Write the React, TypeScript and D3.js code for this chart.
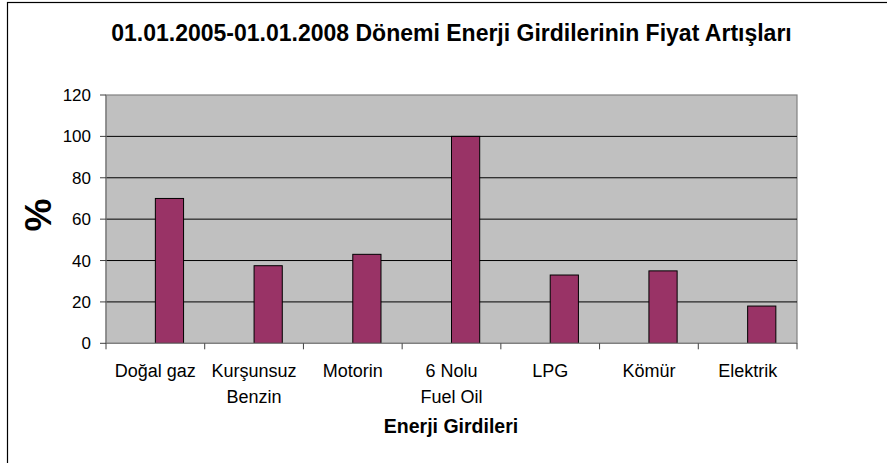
import React from "react";
import * as d3 from "d3";

const categories: string[][] = [
  ["Doğal gaz"],
  ["Kurşunsuz", "Benzin"],
  ["Motorin"],
  ["6 Nolu", "Fuel Oil"],
  ["LPG"],
  ["Kömür"],
  ["Elektrik"],
];
const values: number[] = [70, 37.5, 43, 100, 33, 35, 18];
const yTicks: number[] = [0, 20, 40, 60, 80, 100, 120];
const title = "01.01.2005-01.01.2008 Dönemi Enerji Girdilerinin Fiyat Artışları";
const xTitle = "Enerji Girdileri";
const yTitle = "%";

const W = 887;
const H = 463;
const plot = { left: 106, right: 797, top: 95, bottom: 343.3 };
const font = "'Liberation Sans', Arial, sans-serif";

export default function App() {
  const idx = categories.map((_, i) => String(i));
  const x = d3.scaleBand<string>().domain(idx).range([plot.left, plot.right]).padding(0);
  const y = d3.scaleLinear().domain([0, 120]).range([plot.bottom, plot.top]);
  const bw = x.bandwidth();
  const barW = bw / 3.5;
  const boundaries = d3.range(categories.length + 1).map((i) => plot.left + i * bw);

  return (
    <svg
      width={W}
      height={H}
      style={{ position: "absolute", left: 0, top: 0, background: "#fff" }}
      fontFamily={font}
    >
      <rect x={7.5} y={2.5} width={900} height={480} fill="#fff" stroke="#000" strokeWidth={1.2} />
      <text x={451.5} y={41} textAnchor="middle" fontSize={23} fontWeight="bold" fill="#000">
        {title}
      </text>
      <rect
        x={plot.left}
        y={plot.top}
        width={plot.right - plot.left}
        height={plot.bottom - plot.top}
        fill="#C0C0C0"
        stroke="#808080"
        strokeWidth={1.2}
      />
      {yTicks
        .filter((t) => t > 0 && t < 120)
        .map((t) => (
          <line key={t} x1={plot.left} x2={plot.right} y1={y(t)} y2={y(t)} stroke="#000" strokeWidth={1} />
        ))}
      {values.map((v, i) => {
        const cx = (x(String(i)) as number) + bw / 2;
        return (
          <rect
            key={i}
            x={cx}
            y={y(v)}
            width={barW}
            height={y(0) - y(v)}
            fill="#993366"
            stroke="#000"
            strokeWidth={1}
          />
        );
      })}
      <line x1={plot.left} x2={plot.left} y1={plot.top} y2={plot.bottom} stroke="#808080" strokeWidth={1.2} />
      <line x1={plot.left} x2={plot.right} y1={plot.bottom} y2={plot.bottom} stroke="#808080" strokeWidth={1.2} />
      {yTicks.map((t) => (
        <g key={t}>
          <line x1={plot.left - 6} x2={plot.left} y1={y(t)} y2={y(t)} stroke="#404040" strokeWidth={1} />
          <text x={91} y={y(t) + 6} textAnchor="end" fontSize={17} fill="#000">
            {t}
          </text>
        </g>
      ))}
      {boundaries.map((bx, i) => (
        <line key={i} x1={bx} x2={bx} y1={plot.bottom} y2={plot.bottom + 6} stroke="#404040" strokeWidth={1} />
      ))}
      {categories.map((lines, i) => {
        const cx = (x(String(i)) as number) + bw / 2;
        return (
          <text key={i} textAnchor="middle" fontSize={18} fill="#000">
            {lines.map((l, j) => (
              <tspan key={j} x={cx} y={377.3 + j * 25.4}>
                {l}
              </tspan>
            ))}
          </text>
        );
      })}
      <text x={451} y={432.7} textAnchor="middle" fontSize={19.5} fontWeight="bold" fill="#000">
        {xTitle}
      </text>
      <text
        transform="translate(51,215) rotate(-90)"
        textAnchor="middle"
        fontSize={37}
        fontWeight="bold"
        fill="#000"
      >
        {yTitle}
      </text>
    </svg>
  );
}
